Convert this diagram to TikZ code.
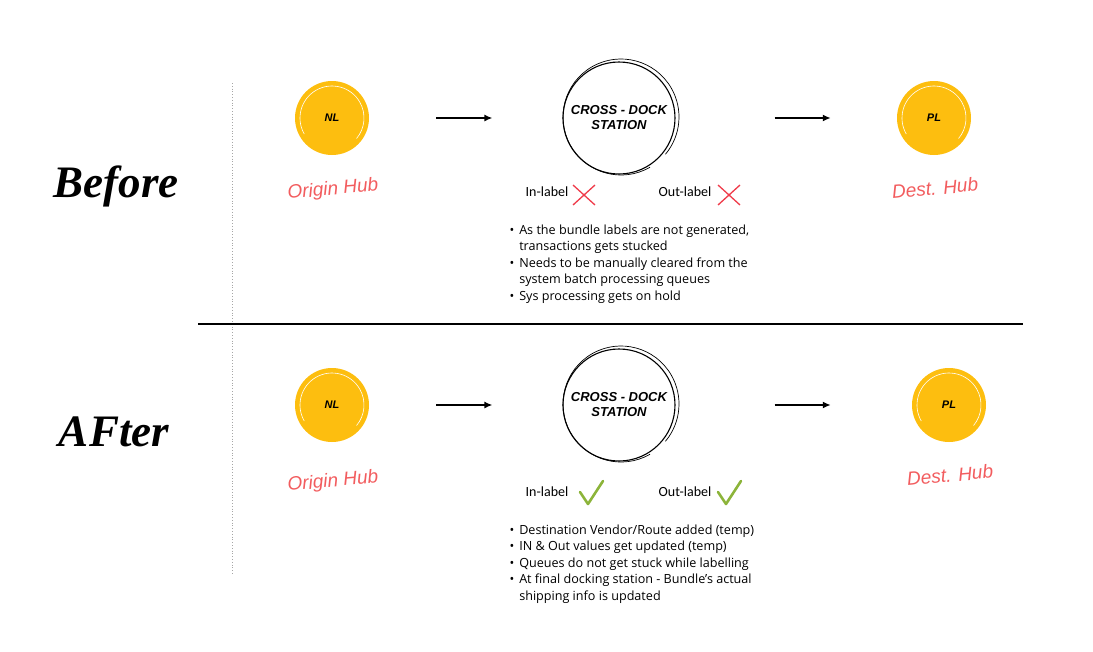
\documentclass[tikz,border=0pt]{standalone}
\usepackage{fontspec}
\setmainfont{Carlito}
\newfontfamily\headfont{Liberation Serif}
\newfontfamily\tagfont{Liberation Sans}
\newfontfamily\notefont{Open Sans}
\usetikzlibrary{arrows.meta}

\definecolor{hubyellow}{HTML}{FDBE0F}
\definecolor{hubred}{HTML}{F25C5E}
\definecolor{crossred}{HTML}{EF3B4A}
\definecolor{tickgreen}{HTML}{8CB43A}

\begin{document}
\begin{tikzpicture}[x=1pt,y=-1pt,
  hub/.style={circle,fill=hubyellow,minimum size=74pt,inner sep=0pt,
    font=\tagfont\bfseries\itshape\fontsize{11}{11}\selectfont},
  dock/.style={circle,draw,line width=1.1pt,minimum size=112pt,inner sep=0pt,align=center,
    font=\tagfont\bfseries\itshape\fontsize{13}{15}\selectfont},
  place/.style={text=hubred,rotate=5,font=\tagfont\itshape\fontsize{19}{19}\selectfont},
  period/.style={font=\headfont\bfseries\itshape\fontsize{45}{45}\selectfont},
  status/.style={font=\fontsize{14}{14}\selectfont},
  notes/.style={anchor=west,font=\notefont\fontsize{12.6}{16.5}\selectfont},
  flow/.style={-{Latex[length=8pt,width=7pt]},line width=1.8pt},
  nocross/.pic={\draw[crossred,line width=1.3pt] (-11,-10) -- (11,10) (-11,10) -- (11,-10);},
  yestick/.pic={\draw[tickgreen,line width=2.6pt,line cap=round,line join=round] (-11,0) -- (-3,12) -- (12,-11);}]
\useasboundingbox (0,0) rectangle (1093,651);

% frame
\draw[gray!70,dotted,line width=0.8pt] (232,83) -- (232,575);
\draw[line width=2.5pt] (198,324) -- (1023,324);

\node[period] (before) at (116,186) {Before};
\node[period] (after) at (114,432) {AFter};

% before
\node[hub] (nl1) at (332,118) {NL};
\node[dock] (cd1) at (619,118) {CROSS - DOCK\\STATION};
\node[hub] (pl1) at (934,118) {PL};
\draw[flow,shorten <=67pt,shorten >=70pt] (nl1) -- (cd1);
\draw[flow,shorten <=99pt,shorten >=66pt] (cd1) -- (pl1);

\node[place] (org1) at (333,190) {Origin Hub};
\node[place] (dst1) at (935,188) {Dest. Hub};

\node[status] (in1) at (547,192) {In-label};
\node[status] (out1) at (685,192) {Out-label};
\pic at (584,195) {nocross};
\pic at (729,195) {nocross};

\node[notes] (why1) at (506,264) {\begin{tabular}{@{}l@{\hspace{5pt}}l@{}}
\textbullet & As the bundle labels are not generated,\\
 & transactions gets stucked\\
\textbullet & Needs to be manually cleared from the\\
 & system batch processing queues\\
\textbullet & Sys processing gets on hold
\end{tabular}};

% after
\node[hub] (nl2) at (332,405) {NL};
\node[dock] (cd2) at (619,405) {CROSS - DOCK\\STATION};
\node[hub] (pl2) at (949,405) {PL};
\draw[flow,shorten <=67pt,shorten >=70pt] (nl2) -- (cd2);
\draw[flow,shorten <=99pt,shorten >=81pt] (cd2) -- (pl2);

\node[place] (org2) at (333,482) {Origin Hub};
\node[place] (dst2) at (950,475) {Dest. Hub};

\node[status] (in2) at (547,492) {In-label};
\node[status] (out2) at (685,492) {Out-label};
\pic at (591,492) {yestick};
\pic at (729,492) {yestick};

\node[notes] (why2) at (506,564) {\begin{tabular}{@{}l@{\hspace{5pt}}l@{}}
\textbullet & Destination Vendor/Route added (temp)\\
\textbullet & IN \& Out values get updated (temp)\\
\textbullet & Queues do not get stuck while labelling\\
\textbullet & At final docking station - Bundle’s actual\\
 & shipping info is updated
\end{tabular}};

% sketchy rims
\foreach \h in {nl1,pl1,nl2,pl2}
  \draw[white,line width=0.6pt] (\h.center) ++(150:32) arc (150:400:32);
\foreach \d in {cd1,cd2}
  \draw[line width=0.7pt] ([shift={(2,-1)}]\d.center) ++(60:58) arc (60:400:58);
\end{tikzpicture}
\end{document}
